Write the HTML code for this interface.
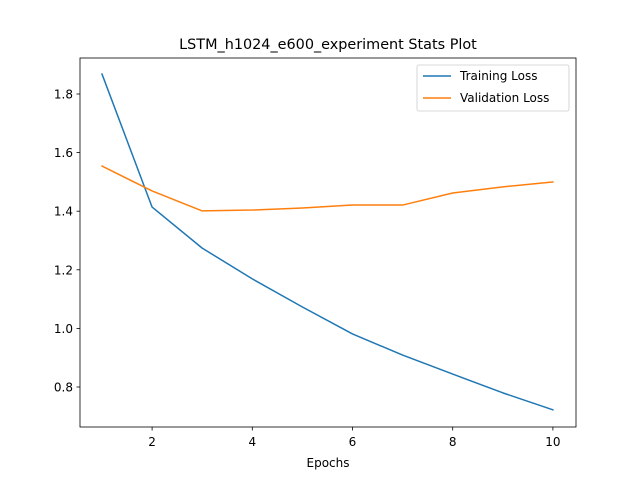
<!DOCTYPE html>
<html><head><meta charset="utf-8"><style>
body{margin:0;background:#fff;}
svg text{font-family:"DejaVu Sans","Liberation Sans",sans-serif;fill:#000;}
</style></head><body>
<svg id="chart" width="640" height="480" xmlns="http://www.w3.org/2000/svg">
<rect width="640" height="480" fill="#fff"/>
<text x="328" y="49" font-size="14.4" text-anchor="middle">LSTM_h1024_e600_experiment Stats Plot</text>
<g id="axes"></g>
<g id="lines"></g>
<rect x="80" y="58" width="496" height="369" fill="none" stroke="#000" stroke-width="0.8"/>
<text x="328" y="467" font-size="12" text-anchor="middle">Epochs</text>
<g>
<rect x="417" y="65" width="152" height="46" rx="2" fill="#fff" fill-opacity="0.8" stroke="#ccc" stroke-width="0.8"/>
<line x1="423" y1="76" x2="451" y2="76" stroke="#1f77b4" stroke-width="1.5"/>
<text x="460" y="80" font-size="12">Training Loss</text>
<line x1="423" y1="98" x2="451" y2="98" stroke="#ff7f0e" stroke-width="1.5"/>
<text x="460" y="102" font-size="12">Validation Loss</text>
</g>
</svg>
<script>
const epochs=[1,2,3,4,5,6,7,8,9,10];
const trainingLoss=[1.868,1.414,1.274,1.169,1.073,0.981,0.909,0.844,0.780,0.722];
const validationLoss=[1.554,1.469,1.401,1.404,1.411,1.421,1.421,1.462,1.483,1.500];
const xTicks=[2,4,6,8,10];
const yTicks=[0.8,1.0,1.2,1.4,1.6,1.8];
const yTickLabels=["0.8","1.0","1.2","1.4","1.6","1.8"];
const NS="http://www.w3.org/2000/svg";
function xs(v){return 102+(v-1)*50.1;}
function ys(v){return 387-(v-0.8)*293;}
const axes=document.getElementById('axes');
function mk(tag,attrs,parent){const e=document.createElementNS(NS,tag);for(const k in attrs)e.setAttribute(k,attrs[k]);parent.appendChild(e);return e;}
xTicks.forEach(t=>{
  const l=mk('line',{x1:xs(t),x2:xs(t),y1:427,y2:430.5,stroke:'#000','stroke-width':0.8},axes);
  
  
  const tx=mk('text',{x:xs(t),y:446,'font-size':12,'text-anchor':'middle'},axes);
  tx.textContent=String(t);
  
  
});
yTicks.forEach((t,i)=>{
  const l=mk('line',{x1:76.5,x2:80,y1:ys(t),y2:ys(t),stroke:'#000','stroke-width':0.8},axes);
  
  
  const tx=mk('text',{x:73,y:ys(t)+4.5,'font-size':12,'text-anchor':'end'},axes);
  tx.textContent=yTickLabels[i];
  
  
});
const lines=document.getElementById('lines');
function series(vals,color,name){
  const p=mk('polyline',{points:vals.map((v,i)=>xs(epochs[i])+','+ys(v)).join(' '),fill:'none',stroke:color,'stroke-width':1.5,'stroke-linejoin':'round','stroke-linecap':'square'},lines);
  
  
}
series(trainingLoss,'#1f77b4','training-loss-line');
series(validationLoss,'#ff7f0e','validation-loss-line');
</script>
</body></html>
